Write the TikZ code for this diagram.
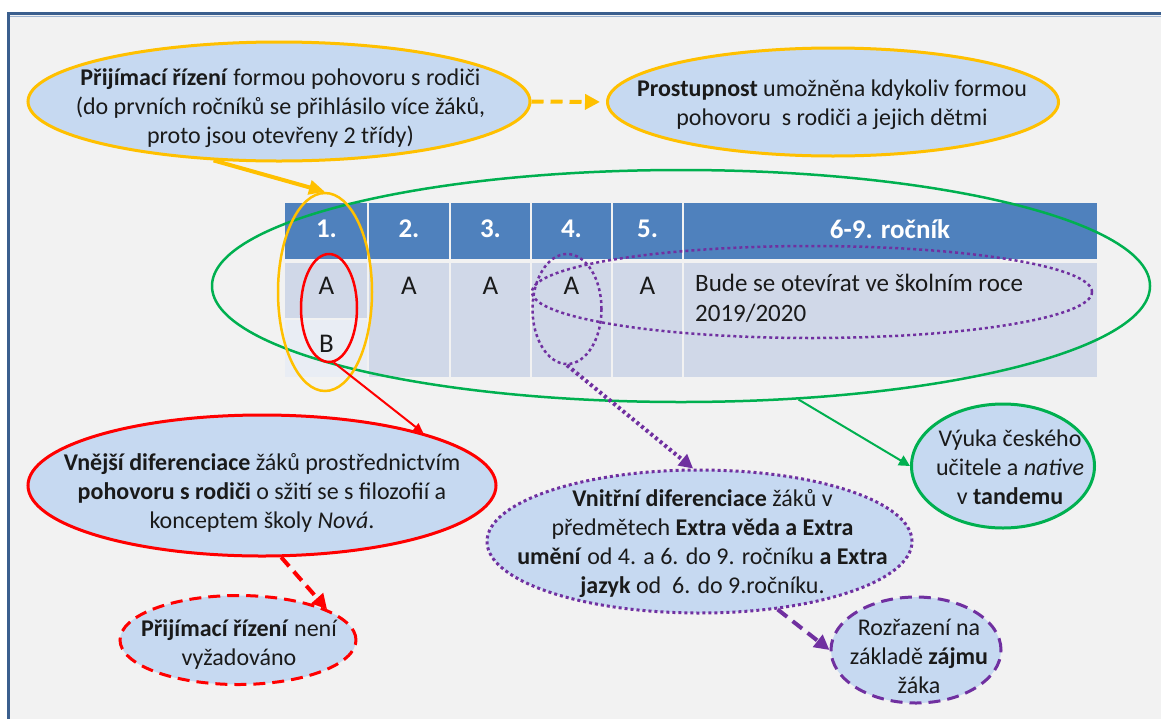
\documentclass[tikz,border=0pt]{standalone}
\usepackage{fontspec}
\setmainfont{Carlito}
\usetikzlibrary{shapes.geometric,arrows.meta}
\definecolor{bgc}{HTML}{F2F2F2}
\definecolor{framec}{HTML}{3B5F8E}
\definecolor{framel}{HTML}{9DB3D0}
\definecolor{fillc}{HTML}{C6D9F1}
\definecolor{yel}{HTML}{FFC000}
\definecolor{redc}{HTML}{FF0000}
\definecolor{grn}{HTML}{00B050}
\definecolor{pur}{HTML}{7030A0}
\definecolor{hdr}{HTML}{4F81BD}
\definecolor{bodyc}{HTML}{D0D8E8}
\definecolor{bodyb}{HTML}{E9EDF4}
\definecolor{txtc}{HTML}{1A1A1A}
\begin{document}
\begin{tikzpicture}[x=1pt,y=-1pt,
  ell/.style={ellipse,inner sep=0pt,fill=fillc},
  ring/.style={ellipse,inner sep=0pt},
  txt/.style={align=center,text=txtc,inner sep=0pt,font=\fontsize{24}{29}\selectfont},
  hd/.style={text=white,inner sep=0pt,font=\fontsize{27}{32}\selectfont\bfseries},
  cell/.style={text=txtc,inner sep=0pt,font=\fontsize{25}{30}\selectfont},
  bigcell/.style={text=txtc,inner sep=0pt,font=\fontsize{27}{32}\selectfont},
  dotl/.style={dash pattern=on 3pt off 3pt},
  dashl/.style={dash pattern=on 12pt off 7pt}
]
\useasboundingbox (0,0) rectangle (1161,718);
\fill[white] (0,0) rectangle (1161,718);
\fill[bgc] (8.5,13.5) rectangle (1170,730);
\draw[framel,line width=1pt] (10,16) -- (1170,16);
\draw[framec,line width=3pt] (8.5,730) -- (8.5,13.5) -- (1170,13.5);

% table
\fill[hdr] (285,203) rectangle (367,259);
\fill[hdr] (369,203) rectangle (449,259);
\fill[hdr] (451,203) rectangle (530,259);
\fill[hdr] (532,203) rectangle (611,259);
\fill[hdr] (613,203) rectangle (682,259);
\fill[hdr] (684,203) rectangle (1097,259);
\fill[bodyc] (285,263) rectangle (367,318);
\fill[bodyb] (285,320) rectangle (367,377);
\fill[bodyc] (369,263) rectangle (449,377);
\fill[bodyc] (451,263) rectangle (530,377);
\fill[bodyc] (532,263) rectangle (611,377);
\fill[bodyc] (613,263) rectangle (682,377);
\fill[bodyc] (684,263) rectangle (1097,377);
\node[hd] (h1) at (326.5,229) {1.};
\node[hd] (h2) at (409,229) {2.};
\node[hd] (h3) at (490.5,229) {3.};
\node[hd] (h4) at (571.5,229) {4.};
\node[hd] (h5) at (647.5,229) {5.};
\node[hd] (h6) at (890,229) {6-9. ročník};
\node[bigcell] (a1) at (326.5,286) {A};
\node[bigcell] (b1) at (326.5,344) {B};
\node[bigcell] (a2) at (409,286) {A};
\node[bigcell] (a3) at (490.5,286) {A};
\node[bigcell] (a4) at (571.5,286) {A};
\node[bigcell] (a5) at (647.5,286) {A};
\node[cell,anchor=west,align=left] (a6) at (695,298) {Bude se otevírat ve školním roce\\2019/2020};

% rings over the table
\node[ring,draw=grn,line width=2.5pt,minimum width=938pt,minimum height=232pt] (gr) at (681,286) {};
\node[ring,draw=yel,line width=2.5pt,minimum width=94pt,minimum height=198pt] (yc) at (325,292) {};
\node[ring,draw=redc,line width=2.5pt,minimum width=56pt,minimum height=108pt] (rc) at (329,308) {};
\node[ring,draw=pur,line width=2.5pt,dotl,minimum width=69pt,minimum height=110pt] (pc) at (567,309) {};
\node[ring,draw=pur,line width=2.5pt,dotl,minimum width=560pt,minimum height=92pt] (pl) at (812,292) {};

% callout ellipses
\node[ell,draw=yel,line width=3pt,minimum width=502pt,minimum height=119pt] (pr) at (279,101.5) {};
\node[txt] (prt) at (280.5,108.5) {\textbf{Přijímací řízení} formou pohovoru s rodiči\\(do prvních ročníků se přihlásilo více žáků,\\proto jsou otevřeny 2 třídy)};
\node[ell,draw=yel,line width=3pt,minimum width=451pt,minimum height=108pt] (ps) at (833,102) {};
\node[txt] (pst) at (832,105) {\textbf{Prostupnost} umožněna kdykoliv formou\\pohovoru\ \ s rodiči a jejich dětmi};
\node[ell,draw=redc,line width=3pt,minimum width=468pt,minimum height=141pt] (vn) at (262,485.5) {};
\node[txt] (vnt) at (262,493) {\textbf{Vnější diferenciace} žáků prostřednictvím\\\textbf{pohovoru s rodiči} o sžití se s filozofií a\\konceptem školy \textit{Nová}.};
\node[ell,draw=redc,line width=3pt,dashl,minimum width=236pt,minimum height=89pt] (pn) at (238,640) {};
\node[txt] (pnt) at (239,645) {\textbf{Přijímací řízení} není\\vyžadováno};
\node[ell,draw=pur,line width=3pt,dotl,minimum width=425pt,minimum height=143pt] (vi) at (699.5,541.5) {};
\node[txt] (vit) at (702.5,544) {\textbf{Vnitřní diferenciace} žáků v\\předmětech \textbf{Extra věda a Extra}\\\textbf{umění} od 4. a 6. do 9. ročníku \textbf{a Extra}\\\textbf{jazyk} od\ \ 6. do 9.ročníku.};
\node[ell,draw=pur,line width=3pt,dashl,minimum width=170pt,minimum height=106pt] (ro) at (916,650) {};
\node[txt] (rot) at (919,656) {Rozřazení na\\základě \textbf{zájmu}\\žáka};
\node[ell,draw=grn,line width=3pt,minimum width=183pt,minimum height=124pt] (vy) at (1003,466) {};
\node[txt] (vyt) at (1010,467) {Výuka českého\\učitele a \textit{native}\\v \textbf{tandemu}};

% connectors
\draw[yel,line width=4pt,-{Triangle[length=16pt,width=14pt]}] (pr.222) -- (yc.north);
\draw[yel,line width=4pt,dashl,-{Triangle[length=15pt,width=15pt]},shorten >=6pt] (pr.east) -- (ps.west);
\draw[redc,line width=2pt,-{Triangle[length=10pt,width=9pt]}] (rc.275) -- (vn.18);
\draw[redc,line width=4pt,dashl,-{Triangle[length=15pt,width=15pt]}] (vn.285) -- (pn.19);
\draw[pur,line width=4pt,dotl,-{Triangle[length=14pt,width=14pt]}] (pc.south) -- (vi.95);
\draw[pur,line width=4pt,dashl,-{Triangle[length=15pt,width=15pt]}] (vi.319) -- (ro.west);
\draw[grn,line width=2pt,-{Triangle[length=11pt,width=11pt]}] (gr.316) -- (vy.west);
\end{tikzpicture}
\end{document}
